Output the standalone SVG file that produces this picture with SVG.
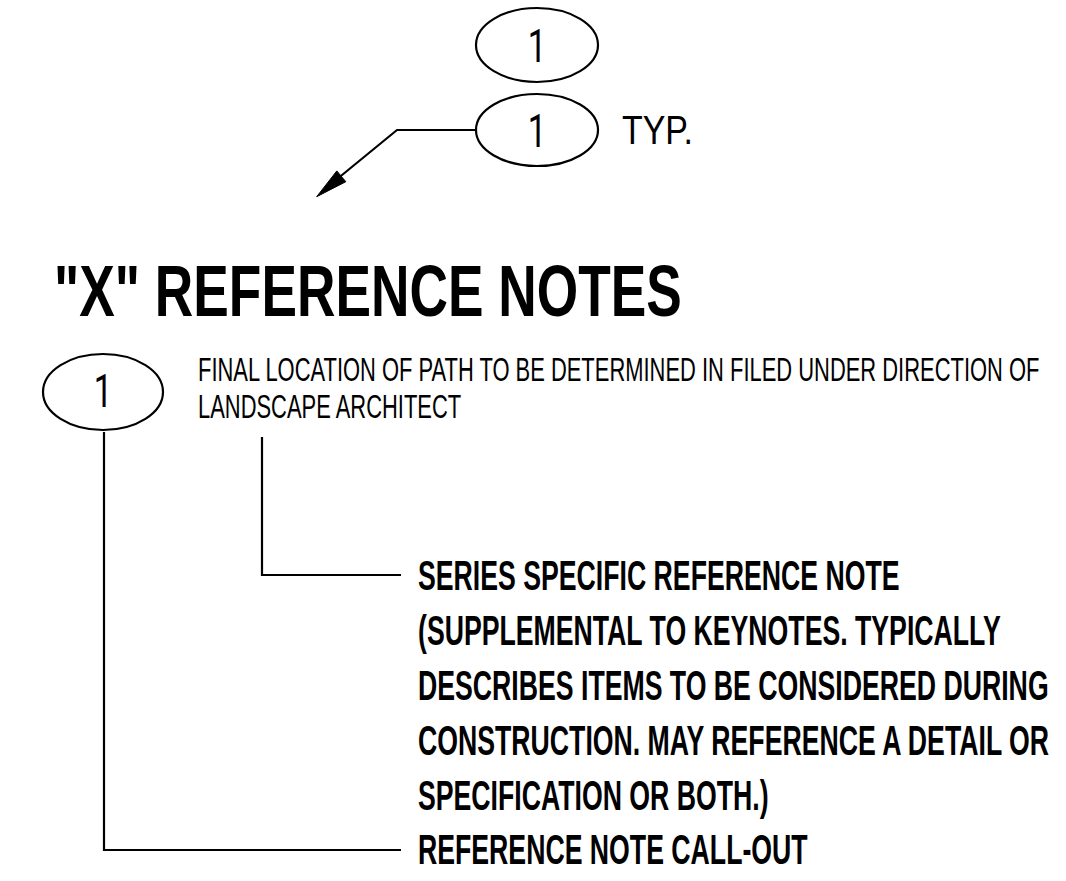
<svg xmlns="http://www.w3.org/2000/svg" width="1066" height="881" viewBox="0 0 1066 881">
<style>
.bg{fill:#fff}
.bub{fill:none;stroke:#000;stroke-width:2.2}
.ln{fill:none;stroke:#000;stroke-width:2.2;stroke-linejoin:miter}
.ah{fill:#000;stroke:#000;stroke-width:1}
.t{font-family:"Liberation Sans",Arial,sans-serif;fill:#000}
.num{font-family:Roboto,"Liberation Sans",Arial,sans-serif;font-size:46px;text-anchor:middle;fill:#000}
.reg{font-size:33.5px}
.bold{font-size:42px;font-weight:bold}
.title{font-size:72px;font-weight:bold}
</style>
<rect class="bg" x="0" y="0" width="1066" height="881"/>
<g id="bubble-top">
<ellipse class="bub" cx="537" cy="45" rx="61" ry="37"/>
<g transform="translate(537,0) scale(0.72,1)"><text class="num" x="0" y="62">1</text></g>
</g>
<g id="bubble-typ">
<ellipse class="bub" cx="537" cy="130" rx="61" ry="36"/>
<g transform="translate(537,0) scale(0.72,1)"><text class="num" x="0" y="147">1</text></g>
<text class="t" x="622" y="144" font-size="41" textLength="71" lengthAdjust="spacingAndGlyphs">TYP.</text>
</g>
<g id="title">
<g transform="translate(54,0) scale(0.74,1)"><text class="t title" x="0" y="316">"X" REFERENCE NOTES</text></g>
</g>
<g id="bubble-note">
<ellipse class="bub" cx="103" cy="392" rx="60" ry="38"/>
<g transform="translate(103,0) scale(0.72,1)"><text class="num" x="0" y="407">1</text></g>
</g>
<g id="note-text">
<g transform="translate(198,0) scale(0.655,1)">
<text class="t reg" x="0" y="381">FINAL LOCATION OF PATH TO BE DETERMINED IN FILED UNDER DIRECTION OF</text>
<text class="t reg" x="0" y="418">LANDSCAPE ARCHITECT</text>
</g>
</g>
<g id="series-label">
<g transform="translate(418,0) scale(0.635,1)">
<text class="t bold" x="0" y="590">SERIES SPECIFIC REFERENCE NOTE</text>
<text class="t bold" x="0" y="645">(SUPPLEMENTAL TO KEYNOTES. TYPICALLY</text>
<text class="t bold" x="0" y="700">DESCRIBES ITEMS TO BE CONSIDERED DURING</text>
<text class="t bold" x="0" y="755">CONSTRUCTION. MAY REFERENCE A DETAIL OR</text>
<text class="t bold" x="0" y="810">SPECIFICATION OR BOTH.)</text>
</g>
</g>
<g id="callout-label">
<g transform="translate(418,0) scale(0.635,1)">
<text class="t bold" x="0" y="864">REFERENCE NOTE CALL-OUT</text>
</g>
</g>
<g id="connectors">
<path class="ln" d="M476,130 H397 L339,177.5"/>
<polygon class="ah" points="316.7,196.7 345.8,181.7 336.8,170.9"/>
<path class="ln" d="M262,437 V575 H401"/>
<path class="ln" d="M104,432 V850 H401"/>
</g>
</svg>
